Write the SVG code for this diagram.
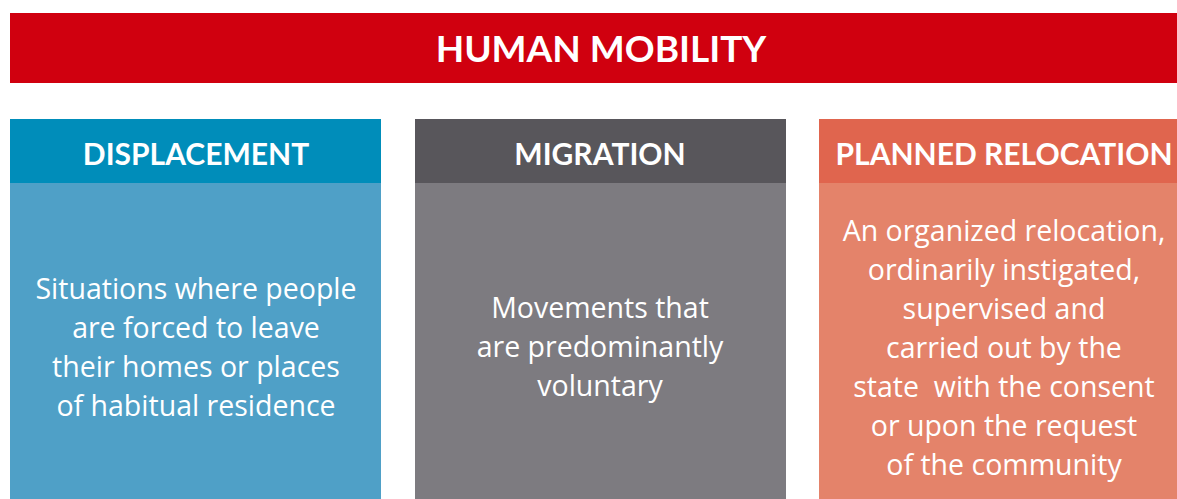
<svg xmlns="http://www.w3.org/2000/svg" width="1177" height="499" viewBox="0 0 1177 499">
<style>
.t{font-family:Lato,"Open Sans",sans-serif;fill:#fff;text-anchor:middle}
.title{font-size:37px;font-weight:bold}
.hd{font-size:30px;font-weight:bold}
.bd{font-family:"Open Sans",Lato,sans-serif;font-size:28.5px}
</style>
<rect width="1177" height="499" fill="#fff"/>
<g id="title">
<rect x="10" y="13" width="1167" height="70" fill="#D0000F"/>
<text class="t title" x="601" y="62">HUMAN MOBILITY</text>
</g>
<g id="displacement">
<rect x="10" y="119" width="371" height="64" fill="#008DBA"/>
<rect x="10" y="183" width="371" height="316" fill="#4FA0C7"/>
<text class="t hd" x="196" y="165">DISPLACEMENT</text>
<text class="t bd" x="196"><tspan x="196" y="299">Situations where people</tspan><tspan x="196" y="338">are forced to leave</tspan><tspan x="196" y="377">their homes or places</tspan><tspan x="196" y="416">of habitual residence</tspan></text>
</g>
<g id="migration">
<rect x="415" y="119" width="371" height="64" fill="#58565B"/>
<rect x="415" y="183" width="371" height="316" fill="#7D7B80"/>
<text class="t hd" x="600" y="165">MIGRATION</text>
<text class="t bd"><tspan x="600" y="318">Movements that</tspan><tspan x="600" y="357">are predominantly</tspan><tspan x="600" y="396">voluntary</tspan></text>
</g>
<g id="planned">
<rect x="819" y="119" width="358" height="64" fill="#E0654E"/>
<rect x="819" y="183" width="358" height="316" fill="#E4836A"/>
<text class="t hd" x="1004" y="165">PLANNED RELOCATION</text>
<text class="t bd"><tspan x="1004" y="241">An organized relocation,</tspan><tspan x="1004" y="280">ordinarily instigated,</tspan><tspan x="1004" y="319">supervised and</tspan><tspan x="1004" y="358">carried out by the</tspan><tspan x="1004" y="397" xml:space="preserve">state  with the consent</tspan><tspan x="1004" y="436">or upon the request</tspan><tspan x="1004" y="475">of the community</tspan></text>
</g>
<g id="connectors"/>
</svg>
